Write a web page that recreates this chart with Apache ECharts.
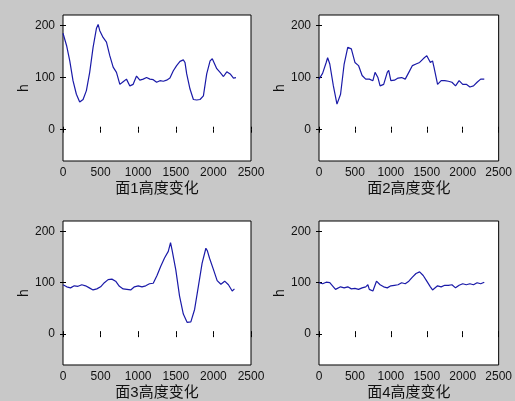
<!DOCTYPE html>
<html><head><meta charset="utf-8">
<script src="https://cdn.jsdelivr.net/npm/echarts@6/dist/echarts.min.js"></script>
<style>html,body{margin:0;padding:0;background:#c8c8c8;}#c{width:515px;height:401px;}</style>
</head><body><div id="c"></div>
<script>
const titles = ['面1高度变化','面2高度变化','面3高度变化','面4高度变化'];
const yTicks = [0, 100, 200];
const face1 = [[0,185],[20,182],[50,160],[90,132],[133,94],[178,68],[222,53],[267,58],[311,75],[355,110],[400,158],[444,194],[467,202],[489,190],[533,177],[578,168],[622,142],[667,120],[711,110],[756,87],[800,92],[844,97],[889,84],[933,87],[978,103],[1022,95],[1067,97],[1111,100],[1156,97],[1200,96],[1245,91],[1289,94],[1334,93],[1378,95],[1422,99],[1467,113],[1511,123],[1556,131],[1600,134],[1622,129],[1645,107],[1689,78],[1734,58],[1778,57],[1822,58],[1867,65],[1911,107],[1956,132],[1985,136],[2045,117],[2089,110],[2134,102],[2178,111],[2223,107],[2267,99],[2300,100]];
const face2 = [[0,97],[50,108],[100,129],[120,138],[150,126],[200,84],[250,49],[270,48],[300,68],[350,126],[400,158],[450,155],[500,129],[550,123],[600,104],[650,97],[700,97],[750,94],[780,110],[820,100],[850,84],[900,87],[950,110],[970,114],[1000,94],[1050,95],[1100,99],[1150,100],[1200,97],[1250,110],[1300,123],[1350,126],[1400,129],[1450,136],[1500,142],[1550,129],[1580,132],[1600,120],[1650,87],[1700,94],[1750,94],[1800,93],[1850,91],[1900,84],[1950,94],[2000,87],[2050,87],[2100,82],[2150,84],[2200,91],[2250,97],[2300,97]];
const face3 = [[0,96],[50,92],[100,90],[150,94],[200,93],[250,96],[300,94],[350,90],[400,86],[450,88],[500,92],[550,100],[600,106],[650,107],[700,103],[750,93],[800,88],[850,87],[900,86],[950,92],[1000,94],[1050,92],[1100,94],[1150,98],[1200,99],[1250,114],[1300,132],[1350,148],[1400,161],[1430,178],[1450,164],[1500,125],[1550,74],[1600,39],[1650,23],[1700,24],[1750,48],[1800,93],[1850,138],[1900,167],[1920,162],[1950,147],[2000,126],[2050,104],[2100,97],[2150,103],[2200,96],[2250,84],[2280,88]];
const face4 = [[0,100],[50,98],[100,101],[150,100],[200,92],[230,87],[300,92],[350,90],[400,92],[450,88],[500,89],[550,87],[600,90],[650,92],[680,96],[700,87],[750,84],[800,103],[850,96],[900,92],[950,90],[1000,94],[1050,95],[1100,96],[1150,100],[1200,98],[1250,103],[1300,111],[1350,118],[1400,121],[1450,114],[1500,103],[1550,92],[1580,86],[1650,94],[1700,92],[1750,95],[1800,95],[1850,96],[1900,90],[1950,95],[2000,98],[2050,96],[2100,98],[2150,96],[2200,100],[2250,98],[2300,101]];
const faces = [face1, face2, face3, face4];

const grids = [
  {left:63, top:15, width:188, height:146},
  {left:319, top:15, width:188, height:146},
  {left:63, top:221, width:188, height:146},
  {left:319, top:221, width:188, height:146}
];
const font = 'Arial, "Liberation Sans", "Noto Sans CJK SC", sans-serif';
const xAxis = [], yAxis = [], series = [];
grids.forEach((g, i) => {
  g.show = true; g.backgroundColor = '#ffffff'; g.borderColor = '#000'; g.borderWidth = 1;
  const tick = {show:true, inside:true, length:3, lineStyle:{color:'#000'}};
  xAxis.push({type:'value', gridIndex:i, min:0, max:2500, interval:500, position:'bottom',
    axisLine:{show:false}, axisTick:tick, splitLine:{show:false},
    axisLabel:{color:'#111', fontSize:12, fontFamily:font, margin:6, formatter:v => String(v)},
    name:titles[i], nameLocation:'middle', nameGap:20,
    nameTextStyle:{color:'#111', fontSize:15, fontFamily:font}});
  xAxis.push({type:'value', gridIndex:i, min:0, max:2500, interval:500, position:'top',
    axisLine:{show:false}, axisTick:tick, splitLine:{show:false}, axisLabel:{show:false}});
  yAxis.push({type:'value', gridIndex:i, min:-60, max:220, position:'left',
    axisLine:{show:false}, splitLine:{show:false},
    axisTick:Object.assign({customValues:yTicks}, tick),
    axisLabel:{customValues:yTicks, color:'#111', fontSize:12, fontFamily:font, margin:8},
    name:'h', nameLocation:'middle', nameGap:32,
    nameTextStyle:{color:'#111', fontSize:14, fontFamily:font}});
  yAxis.push({type:'value', gridIndex:i, min:-60, max:220, position:'right',
    axisLine:{show:false}, splitLine:{show:false},
    axisTick:Object.assign({customValues:yTicks}, tick),
    axisLabel:{show:false}});
  series.push({type:'line', xAxisIndex:2*i, yAxisIndex:2*i, data:faces[i], symbol:'none',
    lineStyle:{color:'#1a1aa8', width:1.2}, animation:false, silent:true});
});
const chart = echarts.init(document.getElementById('c'));
chart.setOption({backgroundColor:'#c8c8c8', animation:false, grid:grids, xAxis, yAxis, series});
</script></body></html>
